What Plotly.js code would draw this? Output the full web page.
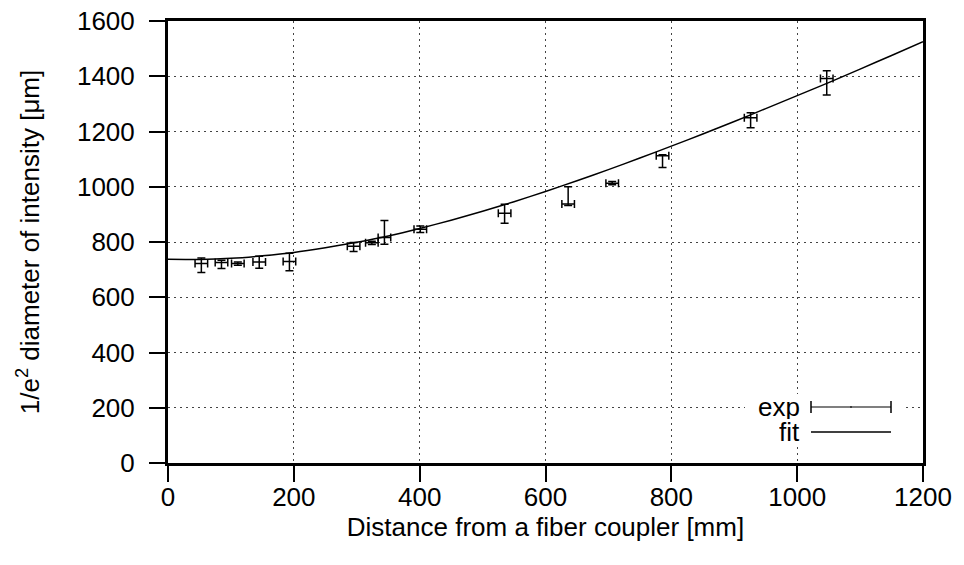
<!DOCTYPE html>
<html>
<head>
<meta charset="utf-8">
<script src="https://cdn.plot.ly/plotly-3.0.1.min.js"></script>
<style>html,body{margin:0;padding:0;background:#fff;}#chart{width:964px;height:565px;}</style>
</head>
<body>
<div id="chart"></div>
<script>
// Measured data (exp)
const expX      = [53, 85, 111, 145, 193, 295, 324, 344, 401, 535, 636, 706, 786, 926, 1047];
const expY      = [722, 726, 722, 728, 729, 785, 797, 816, 846, 904, 938, 1013, 1112, 1250, 1392];
const expYPlus  = [20, 8, 6, 20, 30, 13, 6, 62, 12, 33, 62, 6, 4, 18, 28];
const expYMinus = [32, 22, 6, 23, 33, 19, 6, 24, 12, 36, 6, 6, 42, 36, 60];
const expXErr   = [10, 10, 10, 10, 10, 10, 10, 10, 10, 10, 10, 10, 10, 10, 10];

// Fit curve
const fitX = [0, 50, 100, 150, 200, 250, 300, 350, 400, 450, 500, 550, 600, 650, 700, 750, 800, 850, 900, 950, 1000, 1050, 1100, 1150, 1200];
const fitY = [738, 737, 741, 750, 762, 779, 799, 822, 849, 879, 911, 946, 983, 1022, 1062, 1104, 1147, 1191, 1236, 1283, 1330, 1377, 1426, 1475, 1525];

// Axis ticks
const xTicks = [0, 200, 400, 600, 800, 1000, 1200];
const yTicks = [0, 200, 400, 600, 800, 1000, 1200, 1400, 1600];

const legendLabels = ['exp', 'fit'];

const FONT = 'Liberation Sans, Arial, sans-serif';
const FS = 26;

const traces = [
  {
    type: 'scatter', mode: 'markers', x: expX, y: expY, name: legendLabels[0],
    marker: {size: 1, color: 'rgba(0,0,0,0)'},
    error_y: {type: 'data', symmetric: false, array: expYPlus, arrayminus: expYMinus, color: '#000', thickness: 1.5, width: 4},
    error_x: {type: 'data', array: expXErr, color: '#000', thickness: 1.5, width: 4},
    showlegend: false, hoverinfo: 'skip'
  },
  {
    type: 'scatter', mode: 'lines', x: fitX, y: fitY, name: legendLabels[1],
    line: {color: '#000', width: 1.5, shape: 'spline', smoothing: 0.6},
    showlegend: false, hoverinfo: 'skip'
  }
];

// legend (gnuplot style: label left of sample), in paper coordinates
const W = 964 - 168 - 41, H = 565 - 21 - 102;
const px = x => (x - 168) / W;
const py = y => (463 - y) / H;

const shapes = [
  {type: 'rect', xref: 'paper', yref: 'paper', x0: px(745), x1: px(905), y0: py(446), y1: py(394), fillcolor: '#fff', line: {width: 0}, layer: 'above'},
  {type: 'line', xref: 'paper', yref: 'paper', x0: px(811), x1: px(891), y0: py(407), y1: py(407), line: {color: '#000', width: 1.2}, layer: 'above'},
  {type: 'line', xref: 'paper', yref: 'paper', x0: px(811), x1: px(811), y0: py(401), y1: py(413), line: {color: '#000', width: 1.5}, layer: 'above'},
  {type: 'line', xref: 'paper', yref: 'paper', x0: px(891), x1: px(891), y0: py(401), y1: py(413), line: {color: '#000', width: 1.5}, layer: 'above'},
  {type: 'line', xref: 'paper', yref: 'paper', x0: px(851), x1: px(851), y0: py(406), y1: py(408), line: {color: '#000', width: 1}, layer: 'above'},
  {type: 'line', xref: 'paper', yref: 'paper', x0: px(811), x1: px(891), y0: py(432), y1: py(432), line: {color: '#000', width: 1.5}, layer: 'above'}
];

const annotations = [
  {xref: 'paper', yref: 'paper', x: px(802), y: py(407), text: legendLabels[0], showarrow: false, xanchor: 'right', yanchor: 'middle', height: 24, valign: 'middle', font: {family: FONT, size: FS, color: '#000'}},
  {xref: 'paper', yref: 'paper', x: px(802), y: py(432), text: legendLabels[1], showarrow: false, xanchor: 'right', yanchor: 'middle', height: 24, valign: 'middle', font: {family: FONT, size: FS, color: '#000'}}
];

const layout = {
  width: 964, height: 565,
  margin: {l: 168, r: 41, t: 21, b: 102, pad: 0},
  paper_bgcolor: '#fff', plot_bgcolor: '#fff',
  font: {family: FONT, size: FS, color: '#000'},
  showlegend: false,
  xaxis: {
    range: [0, 1200], tickvals: xTicks, ticktext: xTicks.map(String),
    ticks: 'outside', ticklen: 16, tickwidth: 2, tickcolor: '#000',
    showline: true, linecolor: '#000', linewidth: 3, mirror: true,
    showgrid: true, gridcolor: '#444', gridwidth: 1, griddash: '2px,4px',
    zeroline: false, ticklabelstandoff: -7,
    tickfont: {family: FONT, size: FS, color: '#000'},
    title: {text: 'Distance from a fiber coupler [mm]', font: {family: FONT, size: FS, color: '#000'}, standoff: 2}
  },
  yaxis: {
    range: [0, 1600], tickvals: yTicks, ticktext: yTicks.map(String),
    ticks: 'outside', ticklen: 16, tickwidth: 2, tickcolor: '#000',
    showline: true, linecolor: '#000', linewidth: 3, mirror: true,
    showgrid: true, gridcolor: '#444', gridwidth: 1, griddash: '2px,4px',
    zeroline: false, ticklabelstandoff: 9,
    tickfont: {family: FONT, size: FS, color: '#000'},
    title: {text: '1/e<sup>2</sup> diameter of intensity [μm]', font: {family: FONT, size: FS, color: '#000'}, standoff: 30}
  },
  shapes: shapes,
  annotations: annotations
};

Plotly.newPlot('chart', traces, layout, {staticPlot: true, displayModeBar: false});
</script>
</body>
</html>
